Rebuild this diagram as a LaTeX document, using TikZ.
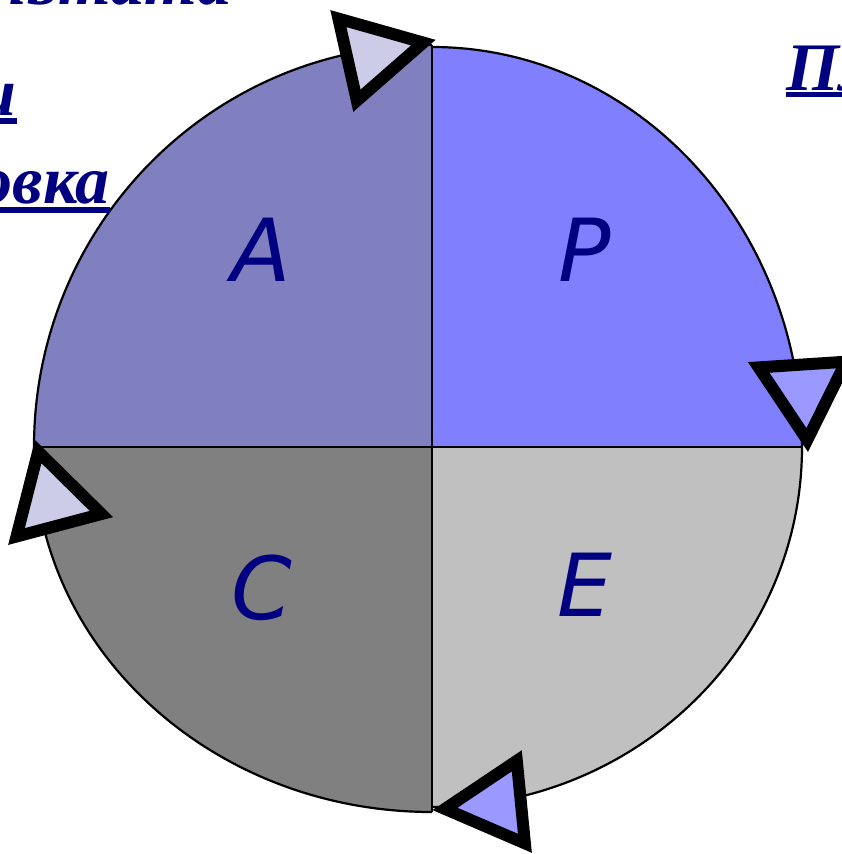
\documentclass[tikz,border=0pt]{standalone}
\usepackage{fontspec}
\newfontfamily\letterfont{DejaVu Sans}
\newfontfamily\capfont{Liberation Serif}
\definecolor{navytext}{RGB}{0,0,128}
\definecolor{qa}{RGB}{128,128,192}
\definecolor{qp}{RGB}{128,128,255}
\definecolor{qc}{RGB}{128,128,128}
\definecolor{qe}{RGB}{192,192,192}
\definecolor{trilight}{RGB}{204,204,232}
\definecolor{triblue}{RGB}{153,153,255}
\tikzset{
  quad/.style={draw=black, line width=2.2pt, line join=round},
  letter/.style={text=navytext, inner sep=0pt, font=\letterfont\itshape\fontsize{87}{100}\selectfont},
  caption/.style={text=navytext, inner sep=0pt, font=\capfont\bfseries\itshape\fontsize{68}{80}\selectfont},
  uline/.style={fill=navytext},
  marker/.style={draw=black, line width=12pt, line join=miter, miter limit=10}
}
\begin{document}
\begin{tikzpicture}[x=1pt, y=-1pt]
\useasboundingbox (0,0) rectangle (842,854);
\clip (0,0) rectangle (842,854);
% quadrants
\coordinate (O) at (432,447);
\fill[qa] (O) -- (34,447) arc[start angle=180, end angle=90, x radius=398pt, y radius=402pt] -- cycle;
\fill[qp] (O) -- (432,47) arc[start angle=90, end angle=0, x radius=370pt, y radius=400pt] -- cycle;
\fill[qe] (O) -- (802,447) arc[start angle=0, end angle=-90, x radius=370pt, y radius=360pt] -- cycle;
\fill[qc] (O) -- (432,812) arc[start angle=270, end angle=180, x radius=398pt, y radius=365pt] -- cycle;
\draw[quad] (34,447) arc[start angle=180, end angle=90, x radius=398pt, y radius=402pt];
\draw[quad] (432,47) arc[start angle=90, end angle=0, x radius=370pt, y radius=400pt];
\draw[quad] (802,447) arc[start angle=0, end angle=-90, x radius=370pt, y radius=360pt];
\draw[quad] (432,812) arc[start angle=270, end angle=180, x radius=398pt, y radius=365pt];
\coordinate (top) at (432,45);
\coordinate (bottom) at (432,812);
\coordinate (left) at (34,447);
\coordinate (right) at (802,447);
\draw[quad] (top) -- (bottom);
\draw[quad] (left) -- (right);
% letters
\node[letter] (A) at (261,250) {A};
\node[letter] (P) at (585,250) {P};
\node[letter] (C) at (262,588) {C};
\node[letter] (E) at (585,585) {E};
% markers
\draw[marker, fill=trilight] (338.4,18.6) -- (423.3,42.6) -- (356.9,100.7) -- cycle;
\draw[marker, fill=triblue] (758.7,367.4) -- (846,361.7) -- (807.2,440) -- cycle;
\draw[marker, fill=trilight] (38.2,451.6) -- (101.4,514) -- (16.5,536.5) -- cycle;
\draw[marker, fill=triblue] (445,808.9) -- (516.8,760.8) -- (524.9,843.3) -- cycle;
% captions (cut off at the edges, as in the reference)
\node[caption, anchor=base east] (L1) at (232,4) {результата};
\node[caption, anchor=base east] (L2) at (17,115) {и};
\node[caption, anchor=base east] (L3) at (110,203) {Корректировка};
\node[caption, anchor=base west] (R1) at (786,90) {Планирование};
\fill[uline] (L2.base west) ++(0,3) rectangle ([yshift=-9pt]L2.base east);
\fill[uline] (L3.base west) ++(0,4) rectangle ([yshift=-10pt]L3.base east);
\fill[uline] (R1.base west) ++(0,2) rectangle ([yshift=-7pt]R1.base east);
\end{tikzpicture}
\end{document}
